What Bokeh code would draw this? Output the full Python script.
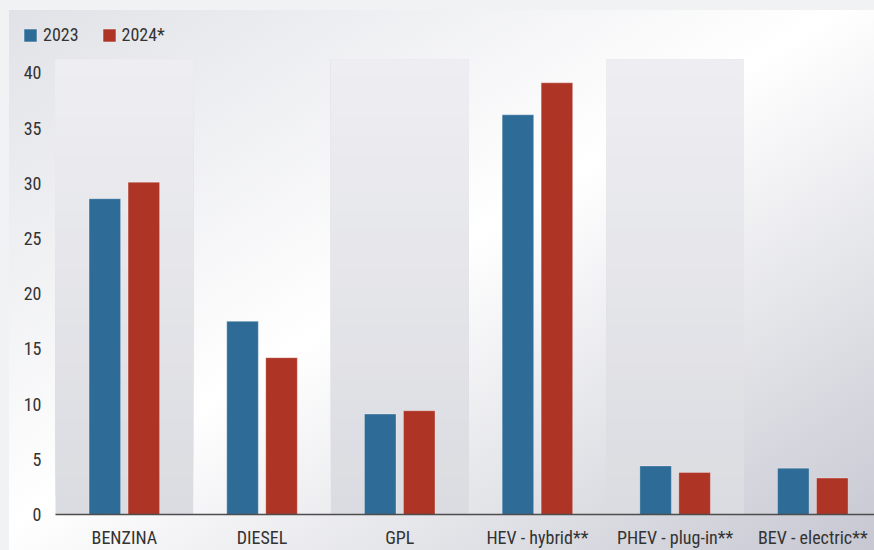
from bokeh.plotting import figure
from bokeh.models import (Range1d, FixedTicker, BoxAnnotation, Legend, LegendItem, LinearAxis,
                          ColumnDataSource, GlobalInlineStyleSheet)
from bokeh.transform import dodge
from bokeh.embed import file_html
from bokeh.resources import INLINE

# ---- data ----
categories = ["BENZINA", "DIESEL", "GPL", "HEV - hybrid**", "PHEV - plug-in**", "BEV - electric**"]
values_2023 = [28.6, 17.5, 9.1, 36.2, 4.4, 4.2]
values_2024 = [30.1, 14.2, 9.4, 39.1, 3.8, 3.3]
series_names = ["2023", "2024*"]
y_ticks = [0, 5, 10, 15, 20, 25, 30, 35, 40]

# ---- style ----
BLUE = "#2e6c97"
RED = "#ae3425"
TEXT = "#333333"
FONT = "Roboto Condensed, Liberation Sans Narrow, Roboto"
BAND_TOP = 41.2      # top of the plot bands (value units)
Y_START = -3.26      # frame extends below zero to hold the category labels
Y_END = 45.65        # frame extends above bands to hold the legend
X_START = -0.834     # frame extends left of first category to hold y labels
X_END = 5.448

idx = list(range(len(categories)))
src = ColumnDataSource(dict(x=idx, v23=values_2023, v24=values_2024))

p = figure(width=865, height=540, margin=(10, 0, 0, 9),
           output_backend="svg", toolbar_location=None,
           x_range=Range1d(X_START, X_END), y_range=Range1d(Y_START, Y_END),
           x_axis_location=None, y_axis_location=None,
           min_border_left=0, min_border_top=0, min_border_bottom=0, min_border_right=0,
           styles={"background": "linear-gradient(to bottom right, #e1e2e7 0%, #ffffff 48%, #c6c7d1 100%)"},
           stylesheets=[GlobalInlineStyleSheet(css="body { background: #f1f2f4; }")])
p.background_fill_alpha = 0
p.border_fill_alpha = 0
p.outline_line_color = None
p.grid.visible = False

# alternating bands with a soft vertical gradient
N = 24
def lerp(c0, c1, t):
    a = [int(c0[i:i + 2], 16) for i in (1, 3, 5)]
    b = [int(c1[i:i + 2], 16) for i in (1, 3, 5)]
    return "#" + "".join(f"{round(a[j] + (b[j] - a[j]) * t):02x}" for j in range(3))

for i in idx[::2]:
    for k in range(N):
        p.add_layout(BoxAnnotation(left=i - 0.5, right=i + 0.5, bottom=BAND_TOP * k / N, top=BAND_TOP,
                                   fill_color=lerp("#dbdce1", "#eeeef2", k / (N - 1)),
                                   fill_alpha=1, line_color=None, level="underlay"))

r1 = p.vbar(x=dodge("x", -0.1416, range=p.x_range), top="v23", width=0.229, source=src,
            fill_color=BLUE, line_color="white", line_alpha=0.3, line_width=1)
r2 = p.vbar(x=dodge("x", 0.1416, range=p.x_range), top="v24", width=0.229, source=src,
            fill_color=RED, line_color="white", line_alpha=0.3, line_width=1)

# x axis drawn at value 0 inside the frame
xaxis = LinearAxis(fixed_location=0, ticker=FixedTicker(ticks=idx), bounds=(-0.5, X_END + 1),
                   major_label_overrides={i: c for i, c in zip(idx, categories)},
                   axis_line_color="#4d4d4d", axis_line_width=1.5,
                   major_tick_line_color=None, minor_tick_line_color=None,
                   major_label_text_font=FONT, major_label_text_font_size="18px",
                   major_label_text_color=TEXT, major_label_standoff=6)
p.add_layout(xaxis, "below")

# y axis drawn inside the frame at the left edge of the first band
yaxis = LinearAxis(fixed_location=-0.5, ticker=FixedTicker(ticks=y_ticks),
                   axis_line_color=None, major_tick_line_color=None, minor_tick_line_color=None,
                   major_label_text_font=FONT, major_label_text_font_size="18px",
                   major_label_text_color=TEXT, major_label_standoff=8)
p.add_layout(yaxis, "left")

legend = Legend(items=[LegendItem(label=series_names[0], renderers=[r1]),
                       LegendItem(label=series_names[1], renderers=[r2])],
                orientation="horizontal", location=(13, 505),
                glyph_width=16, glyph_height=16, label_height=16, label_standoff=5, spacing=22,
                padding=0, margin=0, border_line_color=None, background_fill_alpha=0,
                label_text_font=FONT, label_text_font_size="18px", label_text_color=TEXT)
p.add_layout(legend)

open("out.html", "w").write(file_html(p, INLINE))
